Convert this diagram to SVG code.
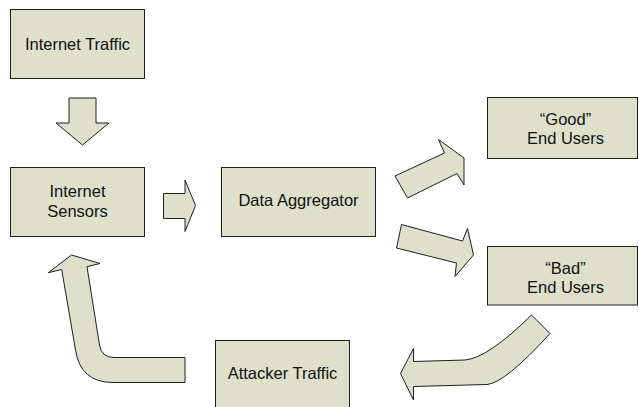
<svg xmlns="http://www.w3.org/2000/svg" width="639" height="407" viewBox="0 0 639 407">
  <style>
    .box { fill: #DEE0CB; stroke: #1e1e1e; stroke-width: 1; }
    .arrow { fill: #DEE0CB; stroke: #1e1e1e; stroke-width: 1; stroke-linejoin: miter; }
    .label { font-family: "Liberation Sans", Arial, sans-serif; font-size: 16.5px; fill: #111; text-anchor: middle; }
  </style>
  <rect width="639" height="407" fill="#ffffff"/>

  <!-- block arrows between the stages -->
  <g id="connectors">
    <!-- traffic down into sensors -->
    <polygon class="arrow" points="69,98 96,98 96,123 109,123 82.5,145 56,123 69,123"/>
    <!-- sensors to aggregator -->
    <polygon class="arrow" points="163.5,193.5 185,193.5 185,180 195.5,205.5 185,231.5 185,218.5 163.5,218.5"/>
    <!-- aggregator to good users (head clipped flat) -->
    <polygon class="arrow" points="395,176 444.5,153 438.5,139.5 464,158 464,185 457,173.5 407.5,198"/>
    <!-- aggregator to bad users (head clipped flat) -->
    <polygon class="arrow" points="401.5,224.5 462.5,241 467.5,228.5 473.5,255 455,276.5 456.5,263 396.5,248"/>
    <!-- bad users curving down to attacker traffic -->
    <path class="arrow" d="M400.5,373.5 L413.5,348.5 L413.5,361.5 L465,360 Q488,358 531.5,315 L550,333.5 Q505,383 487,384.5 L413.5,386.5 L413.5,400 Z"/>
    <!-- attacker traffic bending up into sensors -->
    <path class="arrow" d="M71.5,255 L100,263.5 L87,266.7 L99.5,345 Q101.5,357.5 114,357.5 L185,357.5 L185,382.5 L113,382.5 Q80.5,382.5 75.5,350 L61.7,269.5 L48.3,272.7 Z"/>
  </g>

  <g id="internet-traffic">
    <rect class="box" x="10.5" y="9.5" width="134" height="69"/>
    <text class="label" x="77.5" y="50">Internet Traffic</text>
  </g>

  <g id="internet-sensors">
    <rect class="box" x="10.5" y="167.5" width="134" height="69"/>
    <text class="label" x="77.5" y="196.5">Internet</text>
    <text class="label" x="77.5" y="216.5">Sensors</text>
  </g>

  <g id="data-aggregator">
    <rect class="box" x="221.5" y="167.5" width="154" height="69"/>
    <text class="label" x="298.5" y="206">Data Aggregator</text>
  </g>

  <g id="good-users">
    <rect class="box" x="487.5" y="97.5" width="150" height="61"/>
    <text class="label" x="565.5" y="124.5">“Good”</text>
    <text class="label" x="565.5" y="143.5">End Users</text>
  </g>

  <g id="bad-users">
    <rect class="box" x="487.5" y="246.5" width="150" height="58.5"/>
    <text class="label" x="565.5" y="273.5">“Bad”</text>
    <text class="label" x="565.5" y="292.5">End Users</text>
  </g>

  <g id="attacker-traffic">
    <rect class="box" x="215.5" y="340.5" width="134" height="70"/>
    <text class="label" x="282.5" y="378.5">Attacker Traffic</text>
  </g>
</svg>
